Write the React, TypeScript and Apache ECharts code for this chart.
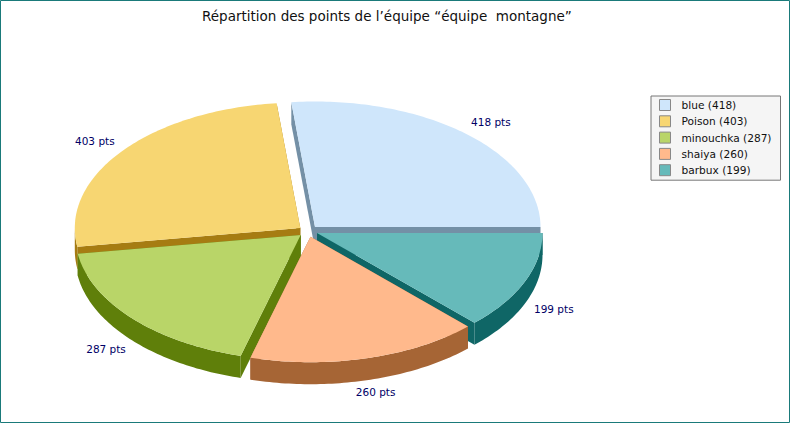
import React, { useEffect, useRef } from "react";
import * as echarts from "echarts";

const TITLE = "Répartition des points de l’équipe “équipe\u00a0 montagne”";
const names = ["blue", "Poison", "minouchka", "shaiya", "barbux"];
const points = [418, 403, 287, 260, 199];
const unit = "pts";

const topColors = ["#cfe6fb", "#f7d672", "#b9d568", "#ffb98c", "#66baba"];
const sideColors = ["#7490a6", "#a67c12", "#5f7f0a", "#a66535", "#0f6666"];
// slice apex once exploded, in pixels
const apexes: [number, number][] = [[315, 227], [300.3, 228], [300.7, 235], [310.5, 236.7], [317, 233]];
const labelOffsets: [number, number][] = [[25, -12], [-27, -10], [-26, 9], [9, 12], [29, 5]];
const drawZ = [1, 3, 4, 5, 2];
const RX = 225.5, RY = 125.5, DEPTH = 22;

const total = points.reduce((a, b) => a + b, 0);
const startDeg = (i: number) => (points.slice(0, i).reduce((a, b) => a + b, 0) / total) * 360;
const rad = (d: number) => (d * Math.PI) / 180;

function rim(i: number, deg: number): [number, number] {
  return [apexes[i][0] + RX * Math.cos(rad(deg)), apexes[i][1] - RY * Math.sin(rad(deg))];
}
function arc(i: number, a: number, b: number): [number, number][] {
  const n = Math.max(2, Math.ceil(Math.abs(b - a)));
  const out: [number, number][] = [];
  for (let k = 0; k <= n; k++) out.push(rim(i, a + ((b - a) * k) / n));
  return out;
}
const drop = (p: [number, number]): [number, number] => [p[0], p[1] + DEPTH];

function sliceItem(i: number) {
  return () => {
    const a = startDeg(i), b = startDeg(i + 1), mid = (a + b) / 2;
    const apex = apexes[i];
    const side = { fill: sideColors[i] };
    const children: any[] = [];
    const poly = (points: [number, number][], style: any) =>
      children.push({ type: "polygon", shape: { points }, style, silent: true });
    // radial wall at each edge
    [a, b].forEach((d) => {
      const r = rim(i, d);
      poly([apex, r, drop(r), drop(apex)], side);
    });
    // outer wall, only the part turned toward the viewer
    const lo = Math.max(a, 180), hi = Math.min(b, 360);
    if (hi > lo) {
      const wall = arc(i, lo, hi);
      poly([...wall, ...wall.map(drop).reverse()], side);
    }
    poly([apex, ...arc(i, a, b)], { fill: topColors[i] });
    const m = rim(i, mid);
    const low = mid > 180;
    children.push({
      type: "text",
      silent: true,
      style: {
        x: m[0] + labelOffsets[i][0],
        y: m[1] + (low ? DEPTH : 0) + labelOffsets[i][1],
        text: `${points[i]} ${unit}`,
        fill: "#000066",
        font: "10.5px 'DejaVu Sans'",
        align: "center",
        verticalAlign: "middle",
      },
    });
    return { type: "group", children };
  };
}

export default function App() {
  const ref = useRef<HTMLDivElement>(null);
  useEffect(() => {
    document.body.style.margin = "0";
    const chart = echarts.init(ref.current!, undefined, { renderer: "svg" });
    chart.setOption({
      animation: false,
      backgroundColor: "#ffffff",
      title: {
        text: TITLE,
        left: 202,
        top: 9,
        padding: 0,
        textStyle: { fontFamily: "DejaVu Sans", fontSize: 13.5, fontWeight: "normal", color: "#111111" },
      },
      legend: {
        left: 651,
        top: 96,
        orient: "vertical",
        align: "left",
        padding: [3, 9, 4, 8],
        itemWidth: 11,
        itemHeight: 11,
        itemGap: 4.3,
        backgroundColor: "#f5f5f5",
        borderColor: "#777777",
        borderWidth: 1,
        borderRadius: 0,
        icon: "rect",
        selectedMode: false,
        itemStyle: { borderColor: "#888888", borderWidth: 1 },
        textStyle: { fontFamily: "DejaVu Sans", fontSize: 10.6, color: "#111111", padding: [0, 0, 0, 6] },
        data: names.map((n, i) => `${n} (${points[i]})`),
      },
      graphic: [
        {
          type: "rect",
          silent: true,
          shape: { x: 0.5, y: 0.5, width: 789, height: 422 },
          style: { fill: "none", stroke: "#1a7a7a", lineWidth: 1 },
        },
      ],
      series: names.map((n, i) => ({
        type: "custom",
        name: `${n} (${points[i]})`,
        coordinateSystem: "none",
        z: drawZ[i],
        itemStyle: { color: topColors[i] },
        data: [points[i]],
        renderItem: sliceItem(i),
      })),
    });
    return () => chart.dispose();
  }, []);
  return <div ref={ref} style={{ width: 790, height: 423 }} />;
}
